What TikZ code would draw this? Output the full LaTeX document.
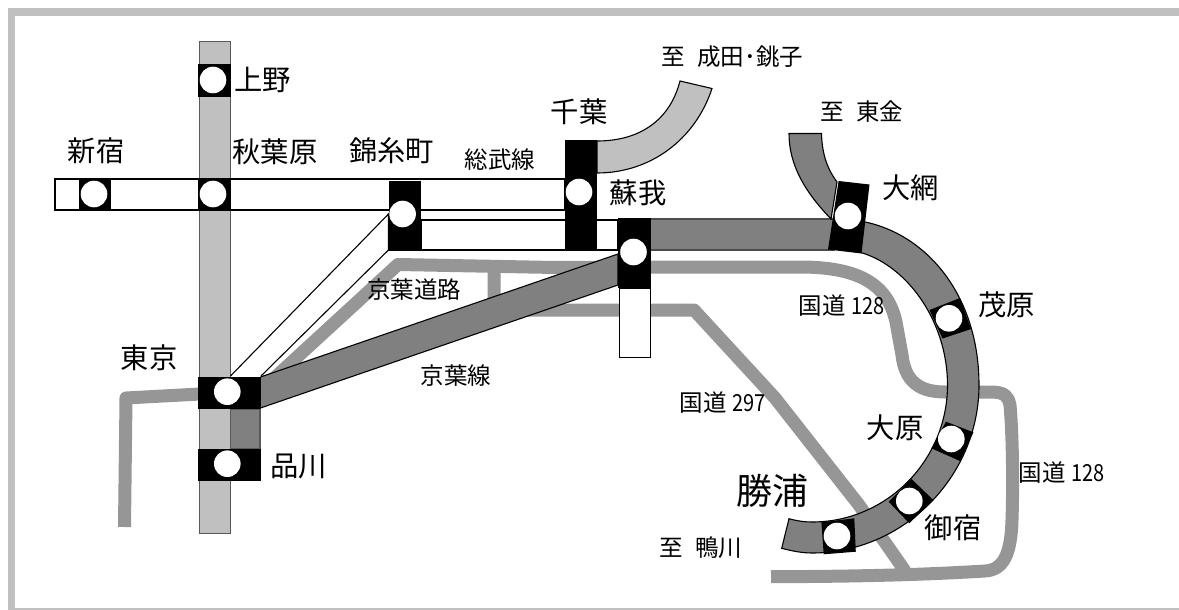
\documentclass[tikz,border=0pt]{standalone}
\usepackage{fontspec}
\setmainfont{Noto Sans CJK JP}
\definecolor{lightrail}{HTML}{C0C0C0}
\definecolor{darkrail}{HTML}{808080}
\definecolor{roadgray}{HTML}{969696}
\definecolor{framegray}{HTML}{C0C0C0}
\tikzset{
  rail/.style={draw=#1,line width=1.1pt,line join=miter},
  road/.style={draw=roadgray,line width=13pt,line join=round,line cap=butt},
  stn/.style={fill=black,draw=none},
  hole/.style={fill=white,draw=none},
  big/.style={inner sep=0pt,font=\fontsize{28.3}{28}\selectfont},
  small/.style={inner sep=0pt,font=\fontsize{23.5}{24}\selectfont},
  huge/.style={inner sep=0pt,font=\fontsize{36}{36}\selectfont},
}
\newcommand{\hl}[1]{\fill[hole] (#1) circle (13.3);}
\newcommand{\nar}[1]{\scalebox{0.85}[1]{#1}}
\begin{document}
\begin{tikzpicture}[x=1pt,y=-1pt]
\useasboundingbox (0,0) rectangle (1179,610);
% frame
\fill[framegray] (8,8) rectangle (1179,16);
\fill[framegray] (8,8) rectangle (15,610);
\fill[framegray] (8,607.5) rectangle (1179,610);
% roads
\draw[road] (124.5,527) -- (126,398) -- (200,394);
\draw[road] (270,382) -- (398,264.5) -- (555,267.5) -- (640,267);
\draw[road] (494,265) -- (494,310) -- (694,310) -- (775,398) -- (859,505) -- (905,571);
\draw[road] (640,267) -- (800,267) .. controls (860,267) and (888,285) .. (896,322)
  -- (902,355) .. controls (905,382) and (920,392) .. (945,392)
  -- (990,392) .. controls (1005,392) and (1008,396) .. (1010,405)
  .. controls (1013,440) and (1013,490) .. (1012,520)
  .. controls (1011,555) and (1003,570) .. (985,571)
  .. controls (920,575) and (850,576.5) .. (771,576.7);
% JR vertical
\fill[lightrail] (199.5,41.5) rectangle (230.5,533.5);
\draw[rail=black!65] (199.5,41.5) rectangle (230.5,533.5);
\draw[rail=black!65,fill=darkrail] (230.5,409) rectangle (260,449);
% Sobu band
\draw[rail=black,fill=white] (55,179) rectangle (565,210);
\draw[rail=black,fill=white] (421,220) rectangle (618,250);
% Tokyo - Kinshicho band
\draw[rail=black,fill=white] (230.5,376) -- (388.5,214) -- (388.5,250) -- (261,376);
% Soga south stub
\draw[rail=black,fill=white] (619.5,288) rectangle (650.5,357.5);
% Keiyo line
\draw[rail=black,fill=darkrail] (260.5,377) -- (618,254) -- (618,285) -- (260.5,408);
% Narita branch
\draw[rail=black,fill=lightrail] (597,141) .. controls (640,141) and (670,120) .. (680,81)
  -- (712,88.5) .. controls (695,140) and (650,173) .. (597,173) -- cycle;
% Soga - Oami
\fill[darkrail] (651,219) rectangle (835,250);
\draw[rail=black!70] (651,219) -- (835,219);
\draw[rail=black!70] (651,250) -- (835,250);
% Togane branch
\draw[rail=black,fill=darkrail] (789,133.5) -- (821.5,133.5) .. controls (822,155) and (828,170) .. (837,182)
  -- (831,219) .. controls (805,192) and (789,165) .. (789,133.5) -- cycle;
% main arc
\draw[rail=black,fill=darkrail] (860,221) .. controls (925,232) and (979,294) .. (979,385)
  .. controls (979,477) and (903,553) .. (812,553)
  .. controls (802,553) and (792,551) .. (781.7,548.3)
  -- (789,518.7) .. controls (797,521) and (805,522) .. (812,522)
  .. controls (887,522) and (947.5,460) .. (947.5,385)
  .. controls (947.5,320) and (905,262) .. (855,251) -- cycle;
% stations
\fill[stn] (198,64) rectangle (231,97);
\fill[stn] (78.5,178) rectangle (111,211);
\fill[stn] (198,179) rectangle (231,211);
\fill[stn] (388.5,180.5) rectangle (421,250.5);
\fill[stn] (564.5,140) rectangle (597,250.5);
\fill[stn] (618,218) rectangle (651,288);
\fill[stn] (198,376.5) rectangle (261,409);
\fill[stn] (198,448.5) rectangle (261,481);
\fill[stn] (838.6,181) -- (869.5,184.5) -- (861.5,253.5) -- (828,249.5) -- cycle;
\fill[stn] (929.5,310) -- (960,298) -- (971,329) -- (942.5,338.5) -- cycle;
\fill[stn] (946,421.7) -- (973.4,432.3) -- (960,461) -- (931.4,448.3) -- cycle;
\fill[stn] (911.5,479) -- (933.3,500) -- (909.3,523.3) -- (888.6,501.7) -- cycle;
\fill[stn] (821.4,522.3) -- (854.3,518.3) -- (855.8,551.7) -- (823.7,554.3) -- cycle;
% holes
\hl{213,80}\hl{94,194}\hl{213,194}\hl{402.6,214}\hl{579,192}\hl{633.5,252}
\hl{227.3,391.7}\hl{227.3,463.7}\hl{848,216}\hl{949,318.3}\hl{951.3,439}\hl{909.3,501}\hl{837,536}
% labels
\node[big] (ueno) at (262.5,80) {上野};
\node[big] (shinjuku) at (96,151) {新宿};
\node[big] (akiba) at (275,152) {秋葉原};
\node[big] (kinshi) at (391.5,151) {錦糸町};
\node[big] (chiba) at (579,112) {千葉};
\node[big] (soga) at (638,193) {蘇我};
\node[big] (oami) at (910.5,188) {大網};
\node[big] (mobara) at (1006.5,305) {茂原};
\node[big] (ohara) at (895,427.7) {大原};
\node[big] (onjuku) at (953,527.7) {御宿};
\node[big] (tokyo) at (149,357.7) {東京};
\node[big] (shinagawa) at (298.5,466.7) {品川};
\node[huge] (katsuura) at (772.6,491) {勝浦};
\node[small] (sobusen) at (500,160) {総武線};
\node[small] (keiyosen) at (456,376) {京葉線};
\node[small] (keiyoroad) at (414,290) {京葉道路};
\node[small] (narita) at (732.5,57) {至\hspace{12pt}成田･銚子};
\node[small] (togane) at (862,112) {至\hspace{12pt}東金};
\node[small] (kamogawa) at (701,548) {至\hspace{12pt}鴨川};
\node[small] (r128a) at (841.6,306) {国道 \nar{128}};
\node[small] (r128b) at (1061.6,472.7) {国道 \nar{128}};
\node[small] (r297) at (722.7,403) {国道 \nar{297}};
\end{tikzpicture}
\end{document}
